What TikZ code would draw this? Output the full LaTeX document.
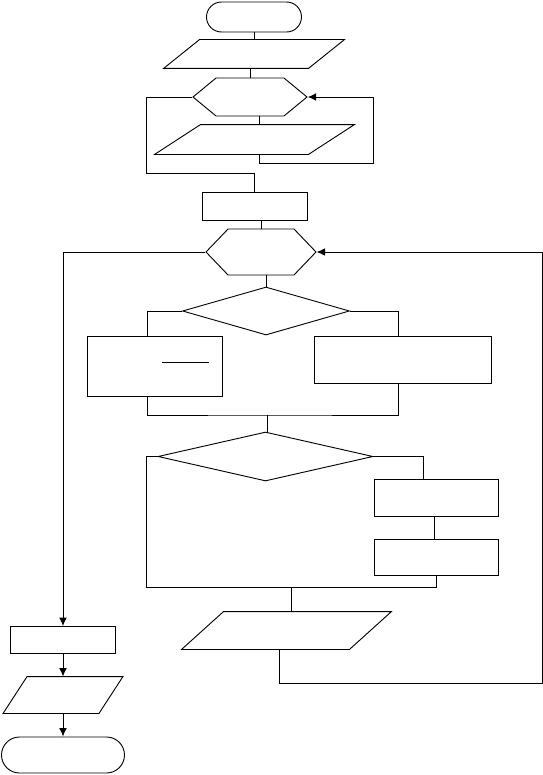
\documentclass[tikz,border=0pt]{standalone}
\usepackage{tikz}
\usetikzlibrary{shapes.symbols,shapes.geometric,arrows.meta}
\newdimen\unitpx \unitpx=0.025cm

\begin{document}
\begin{tikzpicture}[x=0.025cm,y=-0.025cm,line width=0.65pt,
  every node/.style={draw,inner sep=0pt},
  term/.style={rectangle,rounded corners=#1},
  box/.style={rectangle},
  io/.style={rectangle,draw=none},
  loopbox/.style={signal,signal to=west and east,signal pointer angle=#1},
  test/.style={diamond},
  >={Latex[length=6pt,width=5.5pt]}]
\useasboundingbox (0,0) rectangle (543,775);
\node[term=15\unitpx,minimum width=95\unitpx,minimum height=30\unitpx] (start) at (254,17) {};
\node[io,minimum width=180\unitpx,minimum height=28\unitpx] (in1) at (254,54) {};
\node[loopbox=79,minimum width=114\unitpx,minimum height=38\unitpx] (loop1) at (250,97) {};
\node[io,minimum width=199\unitpx,minimum height=29\unitpx] (in2) at (254.5,139.5) {};
\node[box,minimum width=105\unitpx,minimum height=28\unitpx] (calc) at (254.5,206) {};
\node[loopbox=92.5,minimum width=110\unitpx,minimum height=46\unitpx] (loop2) at (261,252) {};
\node[test,minimum width=167\unitpx,minimum height=48\unitpx] (cond1) at (266,311) {};
\node[box,minimum width=135\unitpx,minimum height=60\unitpx] (yes1) at (154.5,366) {};
\node[box,minimum width=177\unitpx,minimum height=47\unitpx] (no1) at (402.5,359.5) {};
\node[test,minimum width=215\unitpx,minimum height=49\unitpx] (cond2) at (265.5,456.5) {};
\node[box,minimum width=124\unitpx,minimum height=37\unitpx] (stepa) at (436,497.5) {};
\node[box,minimum width=124\unitpx,minimum height=36\unitpx] (stepb) at (436,557) {};
\node[io,minimum width=209\unitpx,minimum height=37\unitpx] (out1) at (286.5,630.5) {};
\node[box,minimum width=105\unitpx,minimum height=27\unitpx] (res) at (63,640) {};
\node[io,minimum width=119\unitpx,minimum height=36\unitpx] (out2) at (63,695) {};
\node[term=18\unitpx,minimum width=123\unitpx,minimum height=36\unitpx] (stop) at (63,755) {};
\draw ([xshift=36\unitpx]in1.north west) -- (in1.north east) -- ([xshift=-36\unitpx]in1.south east) -- (in1.south west) -- cycle;
\draw ([xshift=46\unitpx]in2.north west) -- (in2.north east) -- ([xshift=-46\unitpx]in2.south east) -- (in2.south west) -- cycle;
\draw ([xshift=42\unitpx]out1.north west) -- (out1.north east) -- ([xshift=-42\unitpx]out1.south east) -- (out1.south west) -- cycle;
\draw ([xshift=24\unitpx]out2.north west) -- (out2.north east) -- ([xshift=-24\unitpx]out2.south east) -- (out2.south west) -- cycle;
\coordinate (l1) at (146,173);
\coordinate (r1) at (373,163);
\coordinate (m1) at (267,415);
\coordinate (l2) at (146,587);
\coordinate (m2) at (291,587);
\coordinate (r2) at (542,683);
\draw (162,362) -- (209,362);
\draw (start) -- (in1);
\draw (in1.south -| loop1.north) -- (loop1.north);
\draw ([xshift=9\unitpx]loop1.south) -- ([xshift=9\unitpx]loop1.south |- in2.north);
\draw (loop1.west) -| (l1) -| (calc.north);
\draw[->] ([xshift=4.5\unitpx]in2.south) |- (r1) |- (loop1.east);
\draw (calc.south -| loop2.north) -- (loop2.north);
\draw (loop2.south -| cond1.north) -- (cond1.north);
\draw[->] (loop2.west) -| (res.north);
\draw[->] ([xshift=-7.5\unitpx]out1.south) |- (r2) |- (loop2.east);
\draw (cond1.west) -| ([xshift=-7.5\unitpx]yes1.north);
\draw (cond1.east) -| ([xshift=-4.5\unitpx]no1.north);
\draw ([xshift=-7.5\unitpx]yes1.south) |- (m1) -| ([xshift=-4.5\unitpx]no1.south);
\draw (m1) -- (m1 |- cond2.north);
\draw (cond2.west) -| (l2) -| (stepb.south);
\draw (cond2.east) -| ([xshift=-13\unitpx]stepa.north);
\draw ([xshift=-2\unitpx]stepa.south) -- ([xshift=-2\unitpx]stepb.north);
\draw (m2) -- (m2 |- out1.north);
\draw[->] (res) -- (out2);
\draw[->] (out2) -- (stop);
\end{tikzpicture}
\end{document}
